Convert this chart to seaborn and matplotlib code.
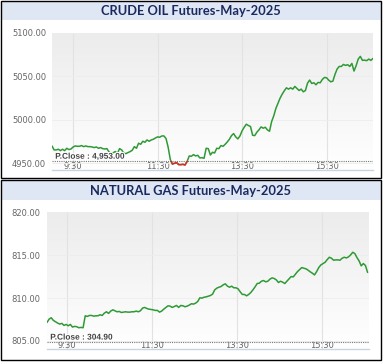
import numpy as np
import pandas as pd
import matplotlib
matplotlib.use('Agg')
import matplotlib.pyplot as plt
import matplotlib.patheffects as pe
import matplotlib.transforms as mtransforms
import seaborn as sns
from matplotlib.patches import Rectangle
from matplotlib.colors import LinearSegmentedColormap

# ---- data (one sample every 3 minutes) ----
crude_start = "09:00"
crude_prices = [4970.0, 4965.4, 4965.4, 4966.2, 4964.6, 4966.2, 4964.6, 4967.3, 4965.8, 4966.5,
                4968.8, 4970.0, 4969.6, 4969.6, 4970.4, 4969.2, 4970.0, 4969.2, 4969.2, 4968.8,
                4968.1, 4968.8, 4967.3, 4968.1, 4966.9, 4966.5, 4966.9, 4963.1, 4960.8, 4962.3,
                4963.5, 4961.5, 4966.9, 4965.4, 4961.5, 4961.2, 4962.3, 4963.5, 4965.0, 4969.2,
                4967.3, 4973.1, 4971.9, 4975.4, 4974.2, 4976.9, 4975.4, 4976.9, 4977.7, 4979.2,
                4980.4, 4980.0, 4981.5, 4981.5, 4978.5, 4968.5, 4954.6, 4949.2, 4950.0, 4950.8,
                4948.5, 4948.5, 4948.8, 4948.1, 4952.3, 4958.5, 4958.1, 4960.0, 4958.5, 4959.2,
                4956.2, 4956.5, 4955.8, 4967.3, 4966.9, 4959.6, 4962.7, 4961.9, 4967.3, 4966.9,
                4970.4, 4969.6, 4971.9, 4974.6, 4977.7, 4981.9, 4984.2, 4980.4, 4978.1, 4981.5,
                4987.3, 4991.5, 4995.0, 4993.5, 4992.3, 4982.3, 4981.9, 4985.8, 4988.5, 4991.9,
                4990.4, 4991.5, 4988.5, 4986.9, 4998.1, 5004.6, 5013.1, 5019.2, 5025.0, 5029.6,
                5033.5, 5036.9, 5035.4, 5036.9, 5035.4, 5038.5, 5036.2, 5033.8, 5035.4, 5032.3,
                5033.8, 5042.3, 5045.8, 5041.9, 5042.7, 5040.4, 5043.1, 5042.7, 5046.5, 5048.8,
                5048.5, 5045.8, 5043.8, 5044.6, 5052.3, 5058.5, 5061.5, 5061.5, 5063.8, 5062.7,
                5063.5, 5061.5, 5065.0, 5056.2, 5062.3, 5070.0, 5073.1, 5068.5, 5068.8, 5068.1,
                5070.0, 5068.5, 5070.8]
crude_pclose = 4953.00

gas_start = "09:02"
gas_prices = [807.14, 807.53, 807.69, 807.38, 807.22, 807.07, 806.95, 807.03, 806.79, 806.91,
              806.75, 806.91, 806.60, 806.68, 806.64, 806.52, 806.56, 806.52, 807.92, 807.85,
              807.96, 807.96, 807.88, 807.92, 807.92, 808.04, 807.96, 808.23, 808.39, 808.20,
              808.47, 808.62, 808.51, 808.39, 808.43, 808.31, 808.35, 808.39, 808.35, 808.35,
              808.39, 808.39, 808.47, 808.39, 808.51, 808.82, 808.90, 808.78, 808.70, 808.66,
              808.62, 808.55, 808.55, 808.35, 808.47, 808.70, 808.90, 809.09, 809.05, 808.90,
              809.01, 809.13, 808.90, 809.13, 809.09, 808.98, 809.05, 809.17, 809.33, 809.29,
              809.40, 809.60, 810.03, 809.99, 810.10, 810.14, 810.22, 810.30, 810.46, 810.96,
              811.16, 811.27, 811.35, 811.55, 811.66, 811.39, 811.27, 811.39, 811.20, 811.20,
              811.08, 810.73, 810.42, 810.42, 810.26, 810.42, 810.65, 810.96, 811.31, 811.70,
              811.74, 811.97, 812.05, 811.90, 811.97, 812.21, 812.36, 812.29, 812.13, 811.82,
              811.97, 811.86, 811.70, 811.97, 812.25, 812.52, 812.48, 812.79, 813.10, 813.34,
              813.57, 813.49, 813.42, 813.26, 813.07, 812.91, 812.71, 813.10, 813.57, 813.88,
              814.04, 814.19, 814.51, 814.78, 814.66, 814.43, 814.47, 814.47, 814.43, 814.66,
              814.78, 814.70, 814.82, 815.05, 815.36, 815.21, 814.74, 814.35, 813.77, 814.04,
              813.81, 813.00]
gas_pclose = 804.90

step_min = 3
tick_times = ["09:30", "11:30", "13:30", "15:30"]
tick_labels = ["9:30", "11:30", "13:30", "15:30"]

crude_yticks = [4950, 5000, 5050, 5100]
gas_yticks = [805, 810, 815, 820]

GREEN = "#2e9a35"
RED = "#e3262b"
W, H = 383, 362


def to_min(t):
    return int(t[:2]) * 60 + int(t[3:])


def fig_rect(x0, y0, x1, y1):
    # pixel box (top-left origin) -> figure fraction [left, bottom, width, height]
    return [x0 / W, (H - y1) / H, (x1 - x0) / W, (y1 - y0) / H]


sns.set_style("white")
plt.rcParams['font.family'] = ['DejaVu Sans']
fig = plt.figure(figsize=(W / 100, H / 100), dpi=100)
fig.patch.set_facecolor("white")

bg_cmap = LinearSegmentedColormap.from_list("bg", ["#ececec", "#ffffff"])


def draw_panel(box, band, title, axbox, start, prices, pclose, pclose_txt,
               xlim, ylim, yticks, ypad, red=False):
    # title band and frame
    l, b, w, h = fig_rect(*band)
    fig.patches.append(Rectangle((l, b), w, h, transform=fig.transFigure,
                                 facecolor="#dfe6f4", edgecolor="none", zorder=0))
    fig.text(l + w / 2, b + h / 2 - 0.002, title, ha="center", va="center",
             fontsize=9.3, fontweight="bold", color="#1b2a5e", family="Lato")
    l, b, w, h = fig_rect(*box)
    fig.patches.append(Rectangle((l, b), w, h, transform=fig.transFigure,
                                 facecolor="none", edgecolor="black", lw=1.0, zorder=5))

    ax = fig.add_axes(fig_rect(*axbox))
    ax.imshow(np.linspace(0, 1, 256).reshape(-1, 1), extent=(0, 1, 0, 1),
              transform=ax.transAxes, cmap=bg_cmap, aspect="auto", zorder=0)

    df = pd.DataFrame({"t": to_min(start) + step_min * np.arange(len(prices)),
                       "price": prices})
    sns.lineplot(data=df, x="t", y="price", ax=ax, color=GREEN, lw=1.1, zorder=3)
    if red:
        sns.lineplot(data=df, x="t", y="price", ax=ax, color=RED, lw=1.1, zorder=4)
        clip = Rectangle((xlim[0], ylim[0]), xlim[1] - xlim[0], pclose - ylim[0],
                         transform=ax.transData)
        ax.lines[-1].set_clip_path(clip)

    ax.axhline(pclose, color="#777777", lw=0.8, ls=(0, (1, 1)), zorder=2)
    trans = mtransforms.blended_transform_factory(ax.transAxes, ax.transData)
    ax.text(0.01, pclose, pclose_txt, transform=trans, ha="left", va="bottom",
            fontsize=6, fontweight="bold", color="#444444", zorder=6,
            family="Liberation Sans",
            path_effects=[pe.withStroke(linewidth=1.5, foreground="white")])

    ax.set_xlim(*xlim)
    ax.set_ylim(*ylim)
    ax.set_xticks([to_min(t) for t in tick_times])
    ax.set_xticklabels(tick_labels)
    ax.set_yticks(yticks)
    ax.set_yticklabels([f"{v:.2f}" for v in yticks])
    for lab in ax.get_yticklabels():
        lab.set_ha("left")
    ax.tick_params(axis="x", length=0, pad=-5.5, labelsize=6, labelcolor="#666666")
    ax.tick_params(axis="y", length=0, pad=ypad, labelsize=6, labelcolor="#666666")
    ax.grid(axis="x", color="#e2e2e2", lw=0.8)
    ax.grid(axis="y", color="#ededed", lw=0.6)
    ax.set_axisbelow(True)
    ax.set_xlabel("")
    ax.set_ylabel("")
    for s in ["top", "left", "right"]:
        ax.spines[s].set_visible(False)
    ax.spines["bottom"].set_color("#c8d3e3")
    ax.spines["bottom"].set_linewidth(1.0)
    return ax


draw_panel((1, 1, 381, 178), (1, 1, 381, 20), "CRUDE OIL Futures-May-2025",
           (52, 33, 373, 170), crude_start, crude_prices, crude_pclose,
           "P.Close : 4,953.00", (540, 996), (4942.3, 5100), crude_yticks,
           (52 - 12) * 0.72, red=True)

draw_panel((1, 180, 381, 360), (1, 180, 381, 200), "NATURAL GAS Futures-May-2025",
           (47, 212, 369, 349), gas_start, gas_prices, gas_pclose,
           "P.Close : 304.90", (542, 997), (804.03, 820.08), gas_yticks,
           (47 - 11) * 0.72)

fig.savefig("out.png", dpi=100)
